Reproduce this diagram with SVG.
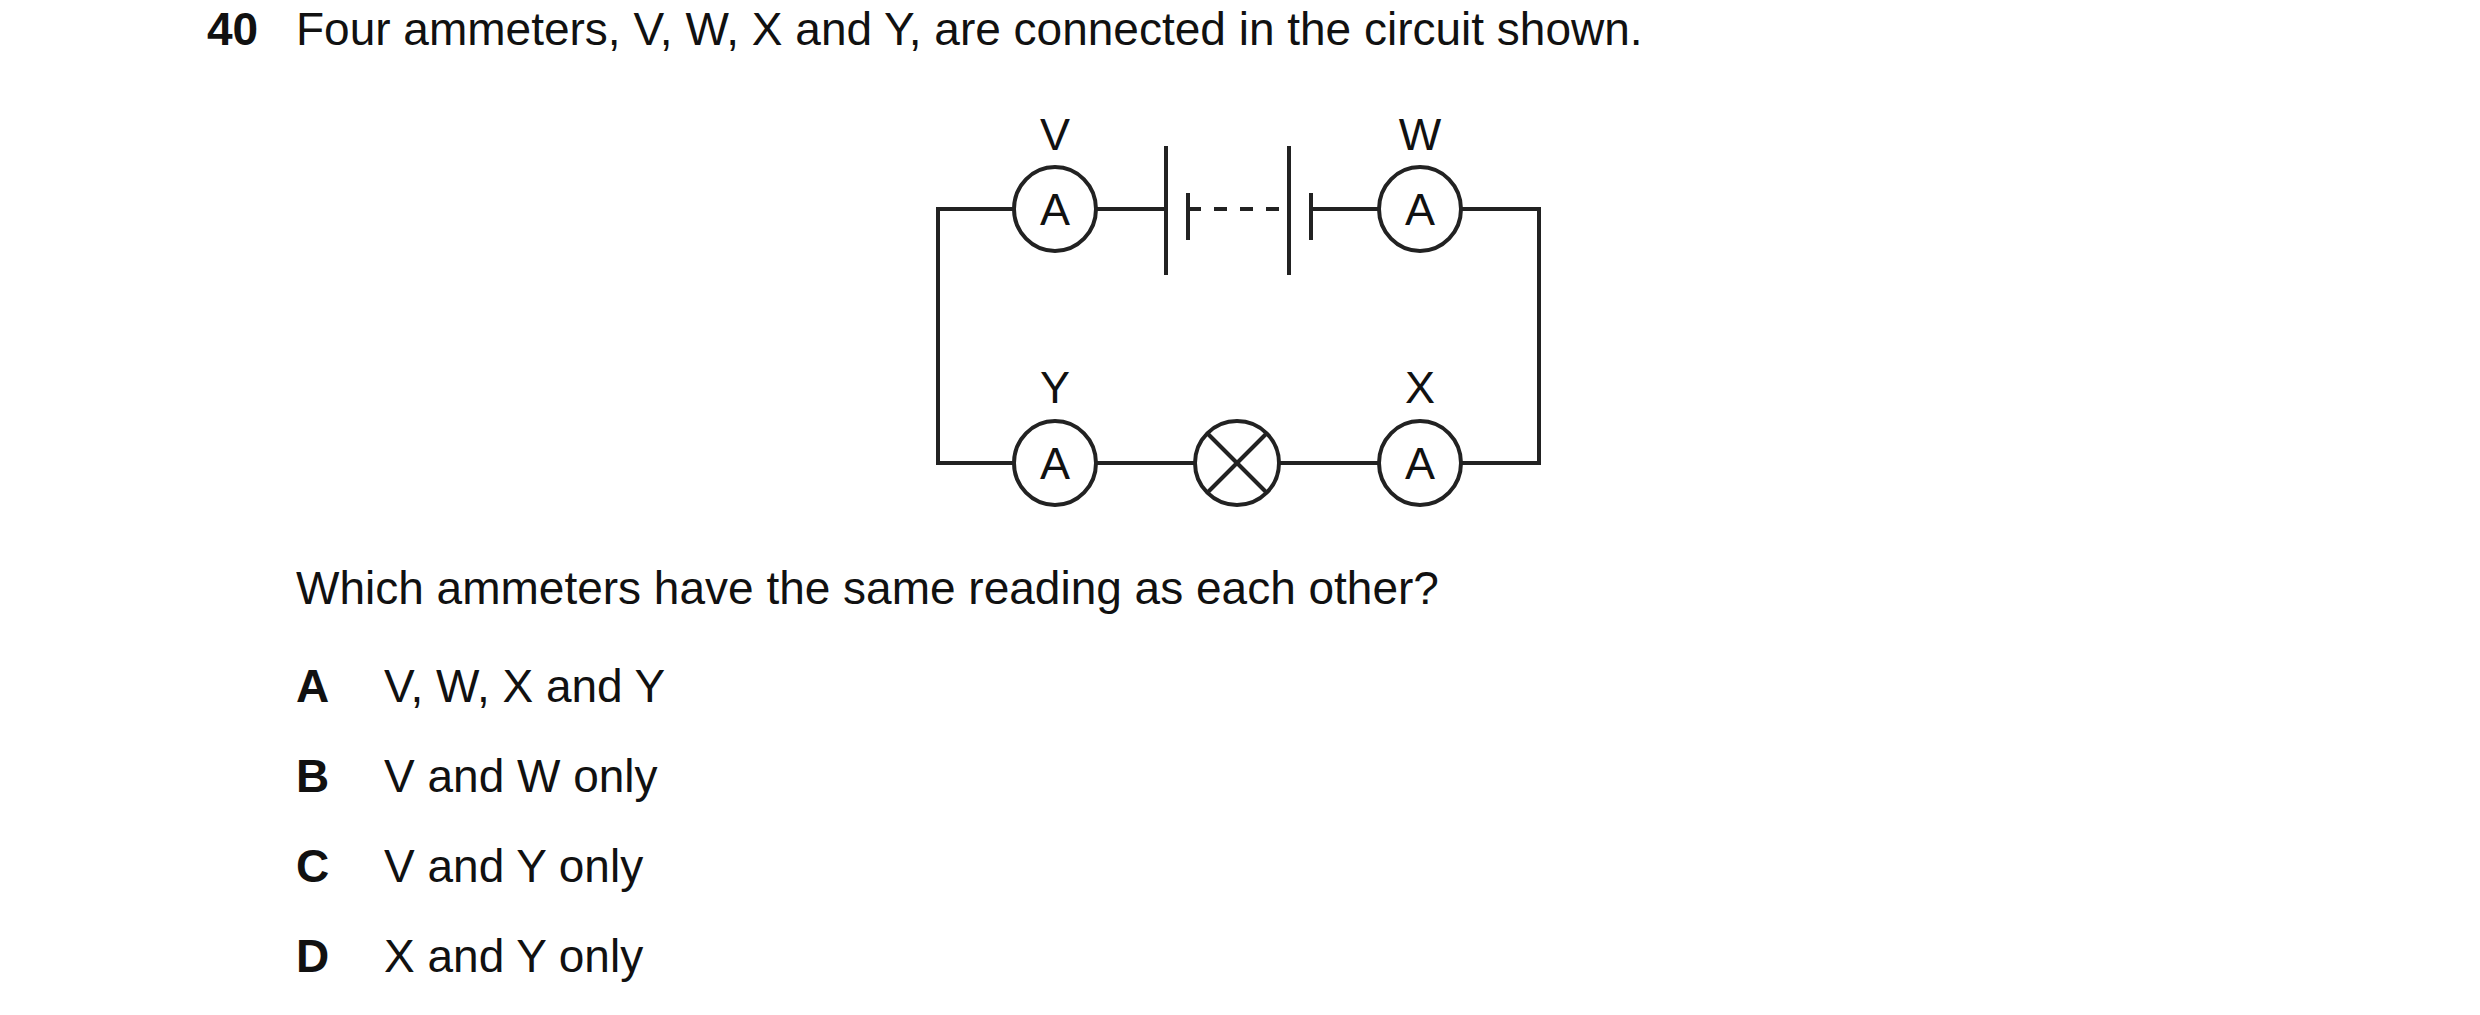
<svg xmlns="http://www.w3.org/2000/svg" width="2480" height="1015" viewBox="0 0 2480 1015">
<style>
text{font-family:"Liberation Sans",Arial,sans-serif;font-size:46px;fill:#111}
.b{font-weight:bold}
.lbl{text-anchor:middle;font-size:45px}
.w{stroke:#222;stroke-width:4;fill:none}
.c{stroke:#222;stroke-width:4;fill:#fff}
</style>
<rect width="2480" height="1015" fill="#fff"/>
<text class="b" x="207" y="45">40</text>
<text x="296" y="45">Four ammeters, V, W, X and Y, are connected in the circuit shown.</text>
<g id="connectors">
<polyline class="w" points="1014,209 938,209 938,463 1014,463"/>
<polyline class="w" points="1461,209 1539,209 1539,463 1461,463"/>
<line class="w" x1="1096" y1="209" x2="1166" y2="209"/>
<line class="w" x1="1311" y1="209" x2="1379" y2="209"/>
<line class="w" x1="1096" y1="463" x2="1195" y2="463"/>
<line class="w" x1="1279" y1="463" x2="1379" y2="463"/>
</g>
<g id="battery">
<line class="w" x1="1166" y1="146" x2="1166" y2="275"/>
<line class="w" x1="1188" y1="193" x2="1188" y2="240"/>
<line class="w" x1="1188" y1="209" x2="1289" y2="209" stroke-dasharray="13,13" stroke-width="5"/>
<line class="w" x1="1289" y1="146" x2="1289" y2="275"/>
<line class="w" x1="1311" y1="193" x2="1311" y2="240"/>
</g>
<g id="V"><ellipse class="c" cx="1055" cy="209" rx="41" ry="42"/><text class="lbl" x="1055" y="225">A</text><text class="lbl" x="1055" y="150">V</text></g>
<g id="W"><ellipse class="c" cx="1420" cy="209" rx="41" ry="42"/><text class="lbl" x="1420" y="225">A</text><text class="lbl" x="1420" y="150">W</text></g>
<g id="Y"><ellipse class="c" cx="1055" cy="463" rx="41" ry="42"/><text class="lbl" x="1055" y="479">A</text><text class="lbl" x="1055" y="403">Y</text></g>
<g id="X"><ellipse class="c" cx="1420" cy="463" rx="41" ry="42"/><text class="lbl" x="1420" y="479">A</text><text class="lbl" x="1420" y="403">X</text></g>
<g id="lamp"><ellipse class="c" cx="1237" cy="463" rx="42" ry="42"/><line class="w" x1="1207" y1="433" x2="1267" y2="493"/><line class="w" x1="1267" y1="433" x2="1207" y2="493"/></g>
<text x="296" y="604">Which ammeters have the same reading as each other?</text>
<text class="b" x="296" y="702">A</text><text x="384" y="702">V, W, X and Y</text>
<text class="b" x="296" y="792">B</text><text x="384" y="792">V and W only</text>
<text class="b" x="296" y="882">C</text><text x="384" y="882">V and Y only</text>
<text class="b" x="296" y="972">D</text><text x="384" y="972">X and Y only</text>
</svg>
